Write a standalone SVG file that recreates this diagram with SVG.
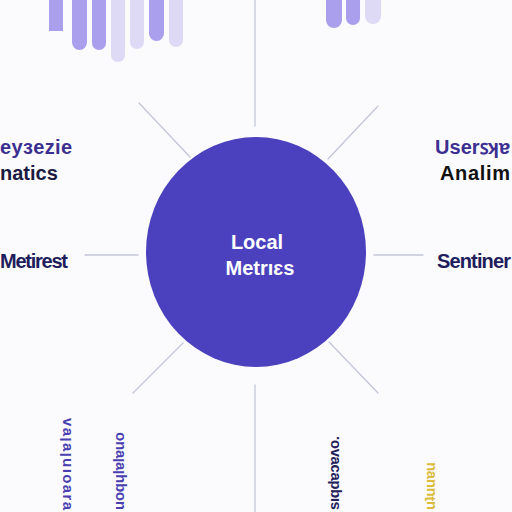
<svg xmlns="http://www.w3.org/2000/svg" width="512" height="512" viewBox="0 0 512 512">
<style>
.ln{stroke:#c3c6da;stroke-width:1.3;fill:none;stroke-linecap:round}
.lbl{font-family:"Liberation Sans",Arial,sans-serif;font-weight:bold;font-size:20px}
.vt{font-family:"Liberation Sans",Arial,sans-serif;font-weight:bold;font-size:15px}
.bm{fill:#aa9fec}
.bl{fill:#dedaf6}
</style>
<rect width="512" height="512" fill="#fbfbfd"/>
<g id="bars">
<rect class="bm" x="49" y="-20" width="14" height="51" rx="0"/>
<rect class="bm" x="72" y="-20" width="15" height="70" rx="7.5"/>
<rect class="bm" x="92" y="-20" width="14" height="70" rx="7"/>
<rect class="bl" x="111" y="-20" width="14" height="82" rx="7"/>
<rect class="bl" x="130" y="-20" width="14" height="69" rx="7"/>
<rect class="bm" x="149" y="-20" width="15" height="61" rx="7.5" fill="#b5acf0"/>
<rect class="bl" x="169" y="-20" width="14" height="67" rx="7"/>
<rect class="bm" x="326" y="-20" width="16" height="48" rx="8"/>
<rect class="bm" x="346" y="-20" width="14" height="45" rx="7"/>
<rect class="bl" x="365" y="-20" width="16" height="44" rx="8"/>
</g>
<g id="connectors">
<line class="ln" x1="255" y1="0" x2="255" y2="126"/>
<line class="ln" x1="139" y1="103" x2="190" y2="157"/>
<line class="ln" x1="378" y1="106" x2="328" y2="159"/>
<line class="ln" x1="85" y1="255" x2="138" y2="255"/>
<line class="ln" x1="374" y1="255" x2="423" y2="255"/>
<line class="ln" x1="183" y1="343" x2="133" y2="393"/>
<line class="ln" x1="329" y1="342" x2="378" y2="393"/>
<line class="ln" x1="255" y1="385" x2="255" y2="512"/>
</g>
<g id="center">
<ellipse cx="256" cy="252" rx="110" ry="115" fill="#4b41be"/>
<text class="lbl" x="257" y="249" fill="#ffffff" text-anchor="middle">Local</text>
<text class="lbl" x="260" y="275" fill="#ffffff" text-anchor="middle">Metrıɛs</text>
</g>
<g id="node-tl">
<text class="lbl" x="0" y="154" fill="#3b2f92" textLength="72">eyзezie</text>
<text class="lbl" x="0" y="180" fill="#1b1a40">natics</text>
</g>
<g id="node-tr">
<text class="lbl" x="435" y="154" fill="#3b2f92" textLength="75">Userꜱʞɐ</text>
<text class="lbl" x="440" y="180" fill="#111111" textLength="70">Analim</text>
</g>
<g id="node-l">
<text class="lbl" x="0" y="268" fill="#1f1d5c" textLength="68">Metirest</text>
</g>
<g id="node-r">
<text class="lbl" x="437" y="268" fill="#1f1d5c" textLength="74">Sentiner</text>
</g>
<g id="node-bl1">
<text class="vt" transform="translate(71,510) rotate(-90)" fill="#4a3fb0" textLength="92">ɐɹɐoınlɐlɐʌ</text>
</g>
<g id="node-bl2">
<text class="vt" transform="translate(124,510) rotate(-90)" fill="#4a3fb0" textLength="78">uoqɥlɐlɐuo</text>
</g>
<g id="node-br1">
<text class="vt" transform="translate(339,510) rotate(-90)" fill="#23205a" textLength="74">sıqdɐɔɐʌo.</text>
</g>
<g id="node-br2">
<text class="vt" transform="translate(435,510) rotate(-90)" fill="#dcbc3c" textLength="48">uʇuuɐu</text>
</g>
</svg>
